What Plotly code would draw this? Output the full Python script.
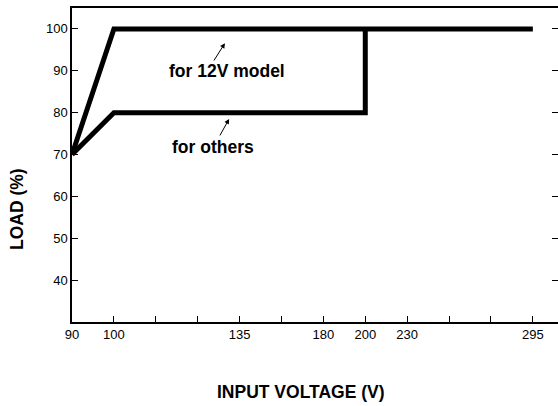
import plotly.graph_objects as go

# Axis categories (x axis is an evenly spaced index scale, 12 slots)
x_slots = list(range(12))
tick_voltages = [90, 100, 135, 180, 200, 230, 295]
tick_slot_idx = [0, 1, 4, 6, 7, 8, 11]
y_ticks = [40, 50, 60, 70, 80, 90, 100]

# Series (input voltage, load %)
v12_volt = [90, 100, 295]
v12_load = [70, 100, 100]
oth_volt = [90, 100, 200, 200]
oth_load = [70, 80, 80, 100]

slot_of = dict(zip(tick_voltages, tick_slot_idx))

FONT = "Liberation Sans, Arial, sans-serif"

fig = go.Figure()
fig.add_trace(go.Scatter(x=[slot_of[v] for v in v12_volt], y=v12_load, mode="lines",
                         line=dict(color="black", width=5), cliponaxis=False,
                         showlegend=False, hoverinfo="skip"))
fig.add_trace(go.Scatter(x=[slot_of[v] for v in oth_volt], y=oth_load, mode="lines",
                         line=dict(color="black", width=5), cliponaxis=False,
                         showlegend=False, hoverinfo="skip"))
# right-side mirrored ticks
fig.add_trace(go.Scatter(x=[None], y=[None], yaxis="y2", showlegend=False, hoverinfo="skip"))

ticktext = [str(tick_voltages[tick_slot_idx.index(i)]) if i in tick_slot_idx else "" for i in x_slots]

fig.update_layout(
    width=558, height=406,
    margin=dict(l=72, r=0, t=8, b=84, autoexpand=False),
    paper_bgcolor="white", plot_bgcolor="white",
    font=dict(family=FONT, size=13, color="black"),
    xaxis=dict(range=[0, 11.6], tickmode="array", tickvals=x_slots, ticktext=ticktext,
               ticks="inside", ticklen=6, tickwidth=1, tickcolor="black",
               showline=True, linecolor="black", linewidth=1.5, mirror=True,
               showgrid=False, zeroline=False, tickfont=dict(size=13), automargin=False),
    yaxis=dict(range=[30, 105], tickmode="array", tickvals=y_ticks,
               ticks="inside", ticklen=6, tickwidth=1, tickcolor="black",
               showline=True, linecolor="black", linewidth=1.5,
               showgrid=False, zeroline=False, tickfont=dict(size=13), automargin=False),
    yaxis2=dict(range=[30, 105], overlaying="y", side="right", tickmode="array",
                tickvals=y_ticks, ticks="inside", ticklen=6, tickcolor="black",
                showticklabels=False, showline=False, showgrid=False, zeroline=False,
                automargin=False),
)

ann = []
ann.append(dict(text="<b>INPUT VOLTAGE (V)</b>", xref="paper", yref="paper",
                x=(301 - 72) / 486, y=-(392 - 322) / 314, showarrow=False,
                font=dict(size=17.5, family=FONT), xanchor="center", yanchor="middle"))
ann.append(dict(text="<b>LOAD (%)</b>", xref="paper", yref="paper",
                x=-(72 - 17) / 486, y=(322 - 209) / 314, showarrow=False, textangle=-90,
                font=dict(size=17.5, family=FONT), xanchor="center", yanchor="middle"))
ann.append(dict(text="<b>for 12V model</b>", x=3.70, y=90.0, showarrow=False,
                font=dict(size=17.5, family=FONT)))
ann.append(dict(text="<b>for others</b>", x=3.365, y=71.8, showarrow=False,
                font=dict(size=17.5, family=FONT)))
ann.append(dict(text="", x=3.65, y=96.6, ax=3.365, ay=92.1, axref="x", ayref="y",
                showarrow=True, arrowhead=2, arrowsize=1, arrowwidth=1, arrowcolor="black"))
ann.append(dict(text="", x=3.75, y=78.5, ax=3.51, ay=74.2, axref="x", ayref="y",
                showarrow=True, arrowhead=2, arrowsize=1, arrowwidth=1, arrowcolor="black"))
fig.update_layout(annotations=ann)

fig.write_html("out.html", config={"displayModeBar": False},
               post_script="document.body.style.margin='0';document.body.style.overflow='hidden';")
